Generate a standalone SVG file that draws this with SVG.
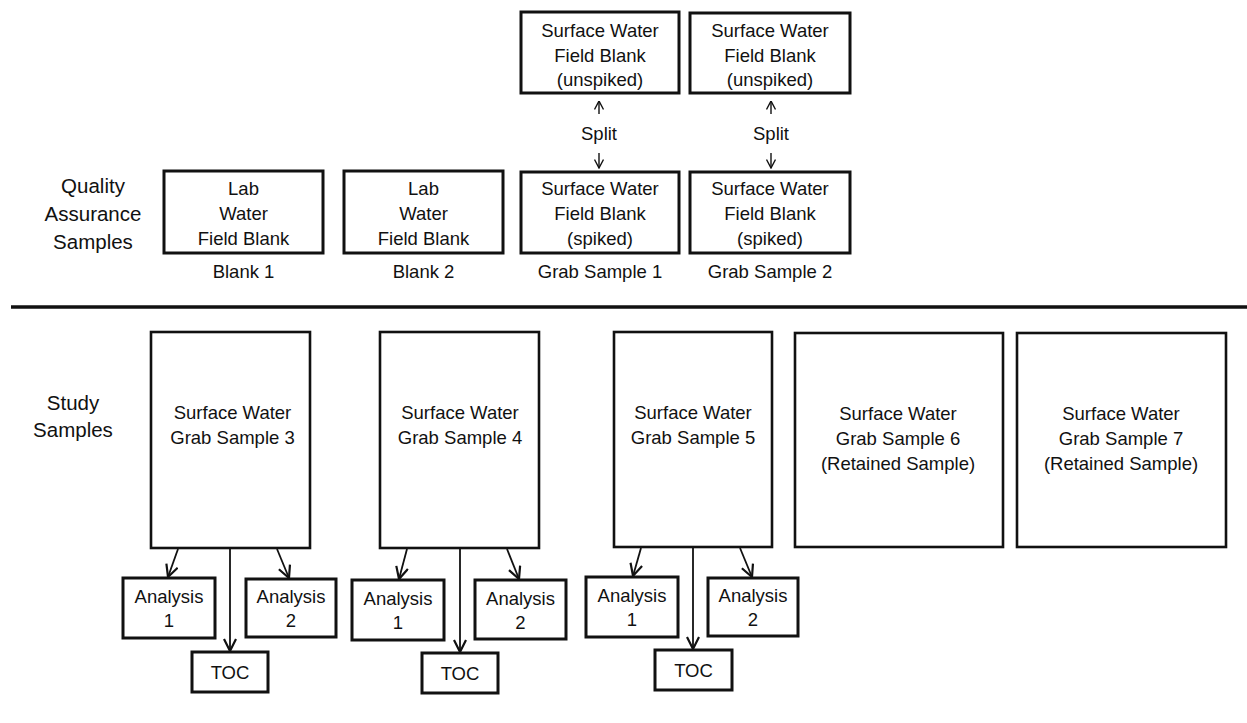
<svg xmlns="http://www.w3.org/2000/svg" width="1247" height="723" viewBox="0 0 1247 723">
<defs>
<style>
text{font-family:"Liberation Sans",Arial,sans-serif;fill:#111;text-anchor:middle}
.t{font-size:18.5px}
.lbl{font-size:20.5px}
.box{fill:#fff;stroke:#111;stroke-width:3}
.big{fill:#fff;stroke:#111;stroke-width:2.6}
.c{fill:none;stroke:#111;stroke-width:1.8}
.s{fill:none;stroke:#111;stroke-width:1.4}
</style>
<marker id="ah" viewBox="0 0 14 14" refX="13" refY="7" markerWidth="14" markerHeight="14" markerUnits="userSpaceOnUse" orient="auto">
<path d="M1,1 L13,7 L1,13" fill="none" stroke="#111" stroke-width="2.2"/>
</marker>
<marker id="sh" viewBox="0 0 10 10" refX="9.5" refY="5" markerWidth="10" markerHeight="10" markerUnits="userSpaceOnUse" orient="auto">
<path d="M1,0.5 L9.5,5 L1,9.5" fill="none" stroke="#111" stroke-width="1.4"/>
</marker>
</defs>
<rect width="1247" height="723" fill="#fff"/>

<g id="labels">
<text class="lbl" x="93" y="193">Quality</text>
<text class="lbl" x="93" y="221">Assurance</text>
<text class="lbl" x="93" y="249">Samples</text>
<text class="lbl" x="73" y="410">Study</text>
<text class="lbl" x="73" y="437">Samples</text>
</g>

<line id="divider" x1="11" y1="307" x2="1247" y2="307" stroke="#111" stroke-width="3.5"/>

<g id="blank1">
<rect class="box" x="164" y="171" width="159" height="82"/>
<text class="t" x="243.5" y="195">Lab</text>
<text class="t" x="243.5" y="220">Water</text>
<text class="t" x="243.5" y="245">Field Blank</text>
<text class="t" x="243.5" y="278">Blank 1</text>
</g>
<g id="blank2">
<rect class="box" x="344" y="171" width="159" height="82"/>
<text class="t" x="423.5" y="195">Lab</text>
<text class="t" x="423.5" y="220">Water</text>
<text class="t" x="423.5" y="245">Field Blank</text>
<text class="t" x="423.5" y="278">Blank 2</text>
</g>
<g id="unspiked1">
<rect class="box" x="521" y="12" width="158" height="81"/>
<text class="t" x="600" y="37">Surface Water</text>
<text class="t" x="600" y="62">Field Blank</text>
<text class="t" x="600" y="86">(unspiked)</text>
</g>
<g id="spiked1">
<rect class="box" x="521" y="172" width="158" height="81"/>
<text class="t" x="600" y="195">Surface Water</text>
<text class="t" x="600" y="220">Field Blank</text>
<text class="t" x="600" y="245">(spiked)</text>
<text class="t" x="600" y="278">Grab Sample 1</text>
</g>
<g id="unspiked2">
<rect class="box" x="690" y="13" width="160" height="80"/>
<text class="t" x="770" y="37">Surface Water</text>
<text class="t" x="770" y="62">Field Blank</text>
<text class="t" x="770" y="86">(unspiked)</text>
</g>
<g id="spiked2">
<rect class="box" x="690" y="172" width="160" height="81"/>
<text class="t" x="770" y="195">Surface Water</text>
<text class="t" x="770" y="220">Field Blank</text>
<text class="t" x="770" y="245">(spiked)</text>
<text class="t" x="770" y="278">Grab Sample 2</text>
</g>
<g id="split1"><text class="t" x="599" y="140">Split</text></g>
<g id="split2"><text class="t" x="771" y="140">Split</text></g>

<g id="sample3">
<rect class="big" x="151" y="332" width="159" height="216"/>
<text class="t" x="232.5" y="419">Surface Water</text>
<text class="t" x="232.5" y="444">Grab Sample 3</text>
</g>
<g id="sample4">
<rect class="big" x="380" y="332" width="159" height="216"/>
<text class="t" x="460" y="419">Surface Water</text>
<text class="t" x="460" y="444">Grab Sample 4</text>
</g>
<g id="sample5">
<rect class="big" x="614" y="332" width="158" height="215"/>
<text class="t" x="693" y="419">Surface Water</text>
<text class="t" x="693" y="444">Grab Sample 5</text>
</g>
<g id="sample6">
<rect class="big" x="795" y="333" width="208" height="214"/>
<text class="t" x="898" y="420">Surface Water</text>
<text class="t" x="898" y="445">Grab Sample 6</text>
<text class="t" x="898" y="470">(Retained Sample)</text>
</g>
<g id="sample7">
<rect class="big" x="1017" y="333" width="209" height="214"/>
<text class="t" x="1121" y="420">Surface Water</text>
<text class="t" x="1121" y="445">Grab Sample 7</text>
<text class="t" x="1121" y="470">(Retained Sample)</text>
</g>

<g id="s3a1">
<rect class="box" x="123" y="578" width="92" height="60"/>
<text class="t" x="169" y="603">Analysis</text>
<text class="t" x="169" y="627">1</text>
</g>
<g id="s3a2">
<rect class="box" x="246" y="579" width="90" height="58"/>
<text class="t" x="291" y="603">Analysis</text>
<text class="t" x="291" y="627">2</text>
</g>
<g id="s3toc">
<rect class="box" x="192" y="652" width="76" height="40"/>
<text class="t" x="230" y="679">TOC</text>
</g>
<g id="s4a1">
<rect class="box" x="352" y="580" width="92" height="60"/>
<text class="t" x="398" y="605">Analysis</text>
<text class="t" x="398" y="629">1</text>
</g>
<g id="s4a2">
<rect class="box" x="475" y="580" width="91" height="59"/>
<text class="t" x="520.5" y="605">Analysis</text>
<text class="t" x="520.5" y="629">2</text>
</g>
<g id="s4toc">
<rect class="box" x="422" y="653" width="76" height="40"/>
<text class="t" x="460" y="680">TOC</text>
</g>
<g id="s5a1">
<rect class="box" x="586" y="577" width="92" height="60"/>
<text class="t" x="632" y="602">Analysis</text>
<text class="t" x="632" y="626">1</text>
</g>
<g id="s5a2">
<rect class="box" x="708" y="578" width="90" height="58"/>
<text class="t" x="753" y="602">Analysis</text>
<text class="t" x="753" y="626">2</text>
</g>
<g id="s5toc">
<rect class="box" x="655" y="650" width="77" height="40"/>
<text class="t" x="693.5" y="677">TOC</text>
</g>

<g id="connectors">
<line class="s" x1="599" y1="114" x2="599" y2="101" marker-end="url(#sh)"/>
<line class="s" x1="599" y1="153" x2="599" y2="168" marker-end="url(#sh)"/>
<line class="s" x1="771" y1="114" x2="771" y2="101" marker-end="url(#sh)"/>
<line class="s" x1="771" y1="153" x2="771" y2="168" marker-end="url(#sh)"/>

<line class="c" x1="178" y1="549" x2="168" y2="577" marker-end="url(#ah)"/>
<line class="c" x1="230" y1="549" x2="230" y2="651" marker-end="url(#ah)"/>
<line class="c" x1="277" y1="549" x2="289" y2="578" marker-end="url(#ah)"/>

<line class="c" x1="407" y1="549" x2="399" y2="579" marker-end="url(#ah)"/>
<line class="c" x1="460" y1="549" x2="460" y2="652" marker-end="url(#ah)"/>
<line class="c" x1="507" y1="549" x2="519" y2="579" marker-end="url(#ah)"/>

<line class="c" x1="641" y1="548" x2="633" y2="576" marker-end="url(#ah)"/>
<line class="c" x1="693" y1="548" x2="693" y2="649" marker-end="url(#ah)"/>
<line class="c" x1="740" y1="548" x2="752" y2="577" marker-end="url(#ah)"/>
</g>
</svg>
